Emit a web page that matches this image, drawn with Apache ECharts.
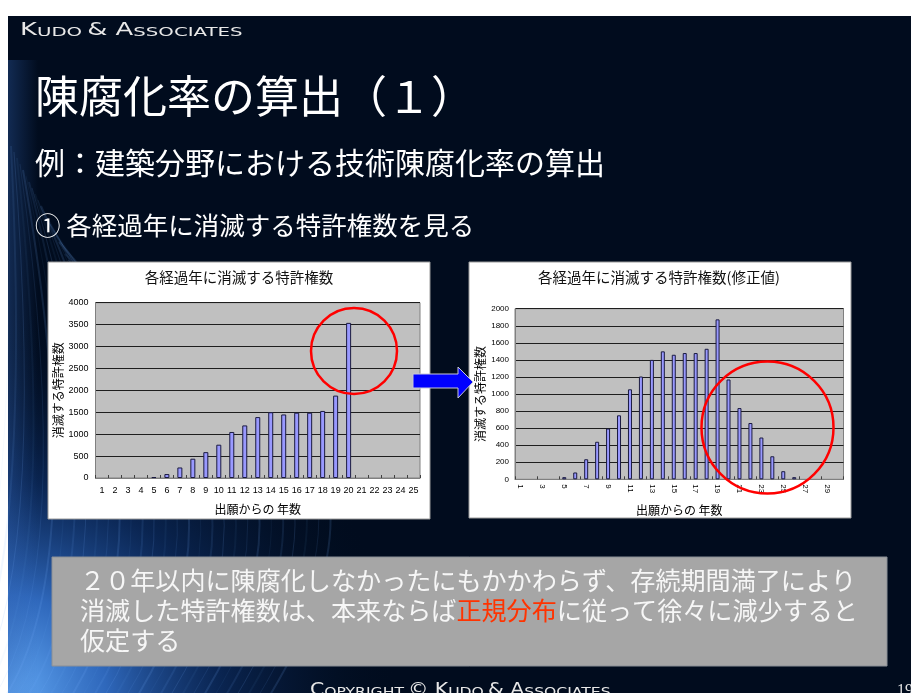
<!DOCTYPE html>
<html>
<head>
<meta charset="utf-8">
<script src="https://cdn.jsdelivr.net/npm/echarts@6/dist/echarts.min.js"></script>
<style>
  html, body { margin: 0; padding: 0; background: #ffffff; }
  #main { width: 911px; height: 693px; }
</style>
</head>
<body>
<div id="main"></div>
<script>
// Years since filing (categories) and counts of lapsed patent rights
var yearsRaw = ['1','2','3','4','5','6','7','8','9','10','11','12','13','14','15','16','17','18','19','20','21','22','23','24','25'];
var lapsedRaw = [0, 0, 0, 0, 20, 90, 240, 440, 590, 760, 1050, 1200, 1390, 1500, 1450, 1490, 1490, 1530, 1880, 3540, 0, 0, 0, 0, 0];

var yearsAdj = ['1','2','3','4','5','6','7','8','9','10','11','12','13','14','15','16','17','18','19','20','21','22','23','24','25','26','27','28','29','30'];
var lapsedAdj = [0, 0, 0, 0, 25, 80, 235, 440, 595, 750, 1055, 1205, 1400, 1500, 1460, 1480, 1480, 1530, 1875, 1170, 835, 660, 490, 270, 95, 25, 0, 0, 0, 0];

var titleRaw = '各経過年に消滅する特許権数';
var titleAdj = '各経過年に消滅する特許権数(修正値)';
var yName = '消滅する特許権数';
var xName = '出願からの 年数';

var CJK = '"Noto Sans CJK JP", "Noto Sans", sans-serif';
var NUM = '"Liberation Sans", Arial, sans-serif';
var CAPS = '"DejaVu Sans", sans-serif';

var chart = echarts.init(document.getElementById('main'), null, { renderer: 'canvas' });

// empty years get no outline
function barData(values) {
  return values.map(function (v) {
    return v === 0 ? { value: v, itemStyle: { borderWidth: 0, opacity: 0 } } : v;
  });
}

// decorative streaks in the lower-left of the slide background
var streaks = [];
for (var i = 0; i < 30; i++) {
  var sx = 8 + i * 11;
  streaks.push({
    type: 'bezierCurve',
    z: -2,
    silent: true,
    shape: {
      x1: sx - 60, y1: 700,
      cpx1: sx + 10 + i * 4, cpy1: 600 - i * 7,
      x2: 8 + i * 3, y2: 140 + i * 6
    },
    style: { stroke: 'rgba(120,180,255,' + (0.06 + (i % 3) * 0.04) + ')', lineWidth: 1 + (i % 2), fill: null }
  });
}

function xAxisOf(gi, cats, labelOpt) {
  return {
    type: 'category',
    gridIndex: gi,
    data: cats,
    axisLine: { lineStyle: { color: '#808080', width: 1 } },
    axisTick: { show: true, inside: true, length: 3, alignWithLabel: false, lineStyle: { color: '#404040' } },
    axisLabel: labelOpt,
    name: xName,
    nameLocation: 'middle',
    nameGap: 25,
    nameTextStyle: { fontFamily: CJK, fontSize: 12, color: '#000' }
  };
}

function yAxisOf(gi, max, step, fs, margin, gap) {
  return {
    type: 'value', gridIndex: gi, min: 0, max: max, interval: step,
    axisLine: { show: true, lineStyle: { color: '#808080' } },
    axisTick: { show: false },
    splitLine: { lineStyle: { color: '#1e1e1e', width: 1 } },
    axisLabel: { fontSize: fs, color: '#000', fontFamily: NUM, margin: margin, formatter: function (v) { return String(v); } },
    name: yName, nameLocation: 'middle', nameRotate: 90, nameGap: gap,
    nameTextStyle: { fontFamily: CJK, fontSize: 12, color: '#000' }
  };
}

var capsRich = function (big, small) {
  return {
    c: { fontFamily: CAPS, fontSize: big, fill: '#e8e8e8', verticalAlign: 'bottom' },
    s: { fontFamily: CAPS, fontSize: small, fill: '#e8e8e8', verticalAlign: 'bottom' }
  };
};

var option = {
  backgroundColor: '#ffffff',
  animation: false,
  grid: [
    { left: 95.5, top: 302.7, width: 324.5, height: 175.3, show: true, backgroundColor: '#c0c0c0', borderColor: '#808080', borderWidth: 1 },
    { left: 515, top: 308.7, width: 328.5, height: 170.6, show: true, backgroundColor: '#c0c0c0', borderColor: '#808080', borderWidth: 1 }
  ],
  xAxis: [
    xAxisOf(0, yearsRaw, { interval: 0, fontSize: 9, color: '#000', fontFamily: NUM, margin: 8 }),
    xAxisOf(1, yearsAdj, { interval: 1, rotate: -90, fontSize: 8, color: '#000', fontFamily: NUM, margin: 5 })
  ],
  yAxis: [
    yAxisOf(0, 4000, 500, 9, 7, 30),
    yAxisOf(1, 2000, 200, 8, 6, 29)
  ],
  series: [
    {
      type: 'bar', xAxisIndex: 0, yAxisIndex: 0, data: barData(lapsedRaw), barWidth: 5,
      itemStyle: { color: '#9999ff', borderColor: '#1a1a40', borderWidth: 1 }
    },
    {
      type: 'bar', xAxisIndex: 1, yAxisIndex: 1, data: barData(lapsedAdj), barWidth: 4,
      itemStyle: { color: '#9999ff', borderColor: '#1a1a40', borderWidth: 1 }
    }
  ],
  graphic: [
    // slide background
    { type: 'rect', z: -4, silent: true, shape: { x: 8, y: 16, width: 903, height: 677 }, style: { fill: '#010c1e' } },
    { type: 'rect', z: -3, silent: true, shape: { x: 8, y: 16, width: 460, height: 677 },
      style: { fill: new echarts.graphic.RadialGradient(0, 1, 0.85, [
        { offset: 0, color: 'rgba(100,170,245,1)' },
        { offset: 0.25, color: 'rgba(55,120,215,0.85)' },
        { offset: 0.55, color: 'rgba(20,65,140,0.45)' },
        { offset: 1, color: 'rgba(1,12,30,0)' }
      ]) } },
    { type: 'rect', z: -3, silent: true, shape: { x: 8, y: 60, width: 30, height: 633 },
      style: { fill: new echarts.graphic.LinearGradient(0, 0, 1, 0, [
        { offset: 0, color: 'rgba(50,100,180,0.35)' },
        { offset: 1, color: 'rgba(50,100,180,0)' }
      ]) } }
  ].concat(streaks).concat([
    // chart frames
    { type: 'rect', z: -1, silent: true, shape: { x: 48, y: 262, width: 382, height: 257 }, style: { fill: '#ffffff', stroke: '#9a9a9a', lineWidth: 1 } },
    { type: 'rect', z: -1, silent: true, shape: { x: 469, y: 262, width: 382, height: 256 }, style: { fill: '#ffffff', stroke: '#9a9a9a', lineWidth: 1 } },
    // chart titles
    { type: 'text', z: 5, silent: true, x: 239, y: 277, style: { text: titleRaw, fontFamily: CJK, fontSize: 14.5, fill: '#111', textAlign: 'center', textVerticalAlign: 'middle' } },
    { type: 'text', z: 5, silent: true, x: 659, y: 277, style: { text: titleAdj, fontFamily: CJK, fontSize: 14.5, fill: '#111', textAlign: 'center', textVerticalAlign: 'middle' } },
    // header
    { type: 'text', z: 5, silent: true, x: 20, y: 39, scaleX: 1.52, style: {
      text: '{c|K}{s|UDO} {c|& A}{s|SSOCIATES}', textVerticalAlign: 'bottom', rich: capsRich(17, 13) } },
    { type: 'text', z: 5, silent: true, x: 35, y: 96, style: { text: '陳腐化率の算出（１）', fontFamily: CJK, fontSize: 44, fill: '#ffffff', textVerticalAlign: 'middle' } },
    { type: 'text', z: 5, silent: true, x: 35, y: 163, style: { text: '例：建築分野における技術陳腐化率の算出', fontFamily: CJK, fontSize: 30, fill: '#ffffff', textVerticalAlign: 'middle' } },
    { type: 'text', z: 5, silent: true, x: 35, y: 225, style: { text: '① 各経過年に消滅する特許権数を見る', fontFamily: CJK, fontSize: 25.5, fill: '#ffffff', textVerticalAlign: 'middle' } },
    // note box
    { type: 'rect', z: 5, silent: true, shape: { x: 52, y: 557, width: 835, height: 109 }, style: { fill: '#a6a6a6', stroke: '#8a8f96', lineWidth: 1 } },
    { type: 'text', z: 6, silent: true, x: 80, y: 580, style: { text: '２０年以内に陳腐化しなかったにもかかわらず、存続期間満了により', fontFamily: CJK, fontSize: 25.1, fill: '#f6f6f6', textVerticalAlign: 'middle' } },
    { type: 'text', z: 6, silent: true, x: 80, y: 610, style: {
      text: '消滅した特許権数は、本来ならば{r|正規分布}に従って徐々に減少すると', fontFamily: CJK, fontSize: 25.1, fill: '#f6f6f6', textVerticalAlign: 'middle',
      rich: { r: { fontFamily: CJK, fontSize: 25.1, fill: '#ff3300' } } } },
    { type: 'text', z: 6, silent: true, x: 80, y: 640, style: { text: '仮定する', fontFamily: CJK, fontSize: 25.1, fill: '#f6f6f6', textVerticalAlign: 'middle' } },
    // footer
    { type: 'text', z: 5, silent: true, x: 310, y: 699, scaleX: 1.2, style: {
      text: '{c|C}{s|OPYRIGHT} {c|© K}{s|UDO} {c|& A}{s|SSOCIATES}', textVerticalAlign: 'bottom', rich: capsRich(17, 13) } },
    { type: 'text', z: 5, silent: true, x: 897, y: 699, style: { text: '19', fontFamily: '"Liberation Serif", serif', fontSize: 16, fill: '#e0e0e0', textVerticalAlign: 'bottom' } },
    // arrow between the charts
    { type: 'polygon', z: 50, silent: true, shape: { points: [[413, 374], [458, 374], [458, 367], [473, 382], [458, 398], [458, 388], [413, 388]] },
      style: { fill: '#0000ff', stroke: '#c8c8d8', lineWidth: 1 } },
    // highlight circles
    { type: 'circle', z: 50, silent: true, shape: { cx: 354, cy: 351, r: 43 }, style: { fill: null, stroke: '#ff0000', lineWidth: 2.5 } },
    { type: 'circle', z: 50, silent: true, shape: { cx: 767.5, cy: 427.5, r: 66 }, style: { fill: null, stroke: '#ff0000', lineWidth: 2.5 } }
  ])
};

chart.setOption(option);
</script>
</body>
</html>
